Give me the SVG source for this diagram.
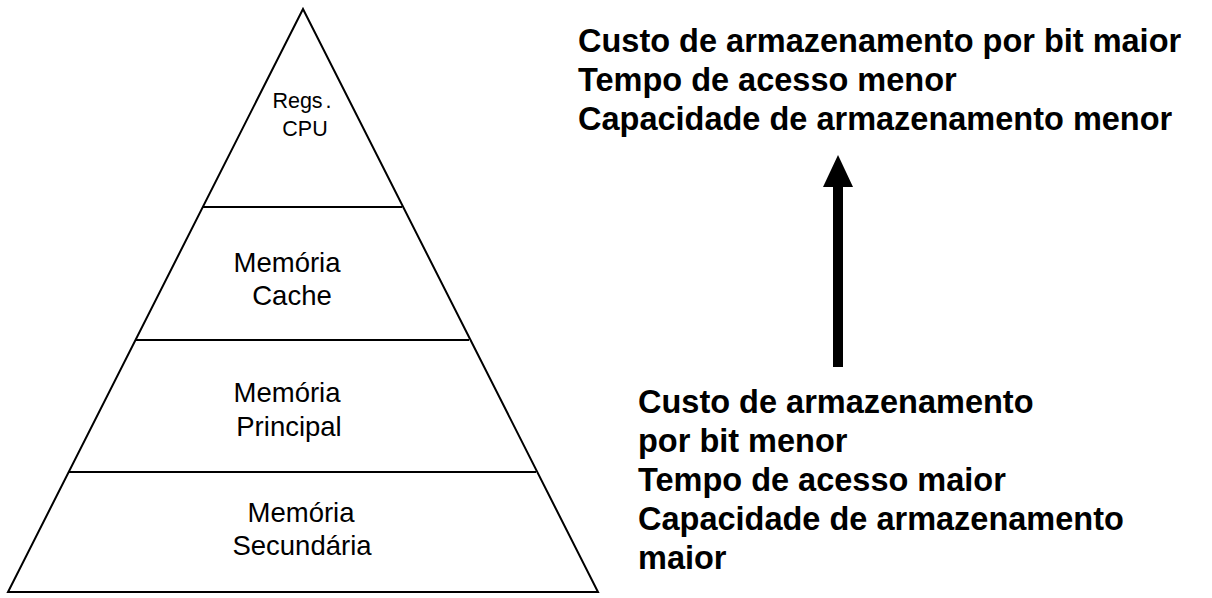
<svg xmlns="http://www.w3.org/2000/svg" width="1212" height="598" viewBox="0 0 1212 598">
<style>
.lbl{font-family:"Liberation Sans",Arial,sans-serif;font-size:27.5px;fill:#000;text-anchor:middle}
.sm{font-size:21.5px}
.bt{font-family:"Liberation Sans",Arial,sans-serif;font-size:32.5px;font-weight:bold;fill:#000}
.ln{stroke:#000;stroke-width:2;fill:none}
</style>
<rect width="1212" height="598" fill="#fff"/>
<g id="pyramid">
<polygon class="ln" points="303,9 8,592 598,592" stroke-linejoin="miter"/>
</g>
<g id="connectors">
<line class="ln" x1="203" y1="207" x2="402" y2="207"/>
<line class="ln" x1="136" y1="340" x2="469" y2="340"/>
<line class="ln" x1="69" y1="472" x2="536" y2="472"/>
<rect x="833" y="185" width="10" height="182" fill="#000"/>
<polygon points="838,155 823,187 853,187" fill="#000"/>
</g>
<g id="regs">
<text class="lbl sm" x="302" y="108">Regs<tspan dx="3">.</tspan></text>
<text class="lbl sm" x="305" y="136">CPU</text>
</g>
<g id="cache">
<text class="lbl" x="287" y="272">Memória</text>
<text class="lbl" x="292" y="305">Cache</text>
</g>
<g id="principal">
<text class="lbl" x="287" y="402">Memória</text>
<text class="lbl" x="289" y="436">Principal</text>
</g>
<g id="secundaria">
<text class="lbl" x="301" y="522">Memória</text>
<text class="lbl" x="302" y="555">Secundária</text>
</g>
<g id="top-text">
<text class="bt" x="578" y="52">Custo de armazenamento por bit maior</text>
<text class="bt" x="578" y="91">Tempo de acesso menor</text>
<text class="bt" x="578" y="130">Capacidade de armazenamento menor</text>
</g>
<g id="bottom-text">
<text class="bt" x="638" y="413">Custo de armazenamento</text>
<text class="bt" x="638" y="452">por bit menor</text>
<text class="bt" x="638" y="491">Tempo de acesso maior</text>
<text class="bt" x="638" y="530">Capacidade de armazenamento</text>
<text class="bt" x="638" y="569">maior</text>
</g>
</svg>
